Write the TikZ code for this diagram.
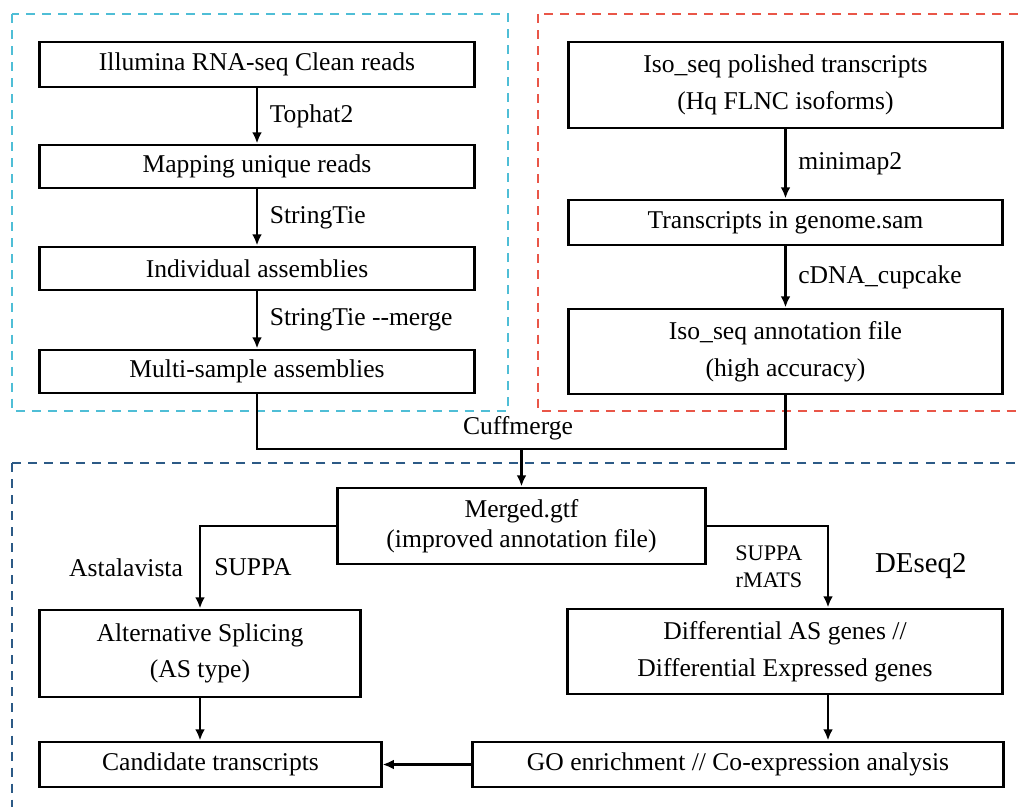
\documentclass[tikz,border=0pt]{standalone}
\usepackage{fontspec}
\setmainfont{Liberation Serif}
\usepackage{xcolor}
\usetikzlibrary{positioning, arrows.meta}
\definecolor{rnaline}{RGB}{79,190,214}
\definecolor{isoline}{RGB}{233,86,72}
\definecolor{asline}{RGB}{44,90,134}
\newcommand{\isoseq}{Iso\_seq}

\begin{document}
\begin{tikzpicture}[x=0.025cm, y=-0.025cm,
  box/.style={draw, line width=2.1pt, align=center, inner sep=0pt, font=\fontsize{18.2}{26}\selectfont},
  lbl/.style={font=\fontsize{18.2}{21}\selectfont},
  arr/.style={line width=1.6pt, -{Latex[length=8pt,width=7pt]}},
  frame/.style={dashed, line width=1.7pt, dash pattern=on 6.4pt off 5pt}]
\useasboundingbox (0,0) rectangle (1021,807);
\clip (0,0) rectangle (1021,807);

% dashed frames
\draw[frame, rnaline] (12,14) rectangle (508,411);
\draw[frame, isoline] (538,14) rectangle (1030,411);
\draw[frame, asline] (12,463) rectangle (1030,820);

% Illumina branch
\node [box, minimum width=10.85cm, minimum height=1.125cm] (illumina) at (257,64.5) {Illumina RNA-seq Clean reads};
\node [box, minimum width=10.85cm, minimum height=1.075cm] (mapping) at (257,166.5) {Mapping unique reads};
\node [box, minimum width=10.85cm, minimum height=1.075cm] (indiv) at (257,268.5) {Individual assemblies};
\node [box, minimum width=10.85cm, minimum height=1.075cm] (multi) at (257,371.5) {Multi-sample assemblies};

\draw (illumina) edge[arr] node[lbl, right=5pt] {Tophat2} (mapping);
\draw (mapping) edge[arr] node[lbl, right=5pt] {StringTie} (indiv);
\draw (indiv) edge[arr] node[lbl, right=5pt] {StringTie -{}-merge} (multi);

% Iso-seq branch
\node [box, minimum width=10.85cm, minimum height=2.15cm] (polished) at (785.5,85) {\isoseq{} polished transcripts\\(Hq FLNC isoforms)};
\node [box, minimum width=10.85cm, minimum height=1.125cm] (sam) at (785.5,222.5) {Transcripts in genome.sam};
\node [box, minimum width=10.85cm, minimum height=2.125cm] (isoann) at (785.5,351.5) {\isoseq{} annotation file\\(high accuracy)};

\draw (polished) edge[arr] node[lbl, right=5pt] {minimap2} (sam);
\draw (sam) edge[arr] node[lbl, right=5pt] {cDNA\_cupcake} (isoann);

% merge
\coordinate (junc) at (521.5,449);
\node [box, font=\fontsize{18.2}{21.5}\selectfont, minimum width=9.175cm, minimum height=1.9cm] (merged) at (521.5,526) {Merged.gtf\\(improved annotation file)};
\draw[line width=1.6pt] (multi.south) |- (junc) -| (isoann.south);
\node [lbl] (cuff) at (518,428) {Cuffmerge};
\draw[arr] (junc) -- (merged.north);

% analysis branch
\node [box, minimum width=8cm, minimum height=2.175cm] (alt) at (200,653.5) {Alternative Splicing\\(AS type)};
\node [box, minimum width=8.525cm, minimum height=1.125cm] (cand) at (210.5,764.5) {Candidate transcripts};
\node [box, minimum width=10.85cm, minimum height=2.125cm] (diff) at (785,651.5) {Differential AS genes //\\Differential Expressed genes};
\node [box, minimum width=13.25cm, minimum height=1.125cm] (go) at (738,764.5) {GO enrichment // Co-expression analysis};
\coordinate (rturn) at (828,526);

\draw[arr] (merged.west) -| node[lbl, pos=0.75, left=8pt] {Astalavista} node[lbl, pos=0.75, right=6pt] {SUPPA} (alt.north);
\draw[arr] (merged.east) -- (rturn) -- node[pos=0.5, left=14pt, align=center, font=\fontsize{15.8}{19}\selectfont] {SUPPA\\rMATS} (rturn |- diff.north);
\node [font=\fontsize{20.5}{24}\selectfont, right=30pt] (deseq) at (rturn |- 0,566) {DEseq2};
\draw[arr] (alt.south) -- (alt.south |- cand.north);
\draw[arr] (rturn |- diff.south) -- (rturn |- go.north);
\draw[arr] (go.west) -- (cand.east);
\end{tikzpicture}
\end{document}
